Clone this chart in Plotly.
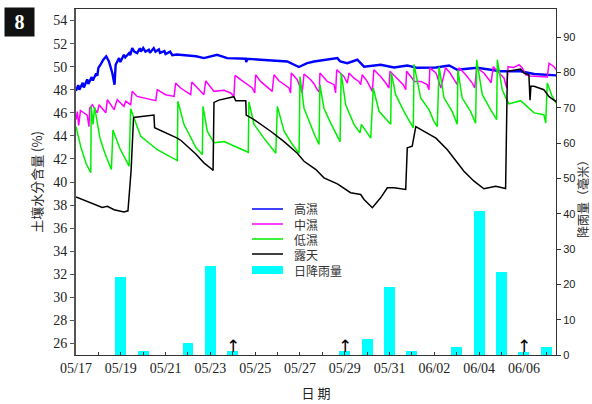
import plotly.graph_objects as go

# ---- data (x = days since 05/17 00:00) ----
tick_days = [0, 2, 4, 6, 8, 10, 12, 14, 16, 18, 20]
tick_labels = ["05/17", "05/19", "05/21", "05/23", "05/25", "05/27",
               "05/29", "05/31", "06/02", "06/04", "06/06"]

hi_t = [0.0, 0.1, 0.15, 0.3, 0.35, 0.5, 0.55, 0.7, 0.75, 0.9, 0.95, 1.0, 1.1, 1.22, 1.35,
        1.47, 1.62, 1.72, 1.77, 1.92, 1.98, 2.14, 2.2, 2.37, 2.42, 2.51, 2.6, 2.73, 2.85,
        2.9, 3.0, 3.1, 3.25, 3.3, 3.47, 3.55, 3.7, 3.75, 3.95, 4.0, 4.2, 4.3, 4.5, 5.0,
        5.36, 5.71, 6.3, 6.75, 7.58, 7.6, 7.65, 8.24, 9.43, 9.95, 10.32, 10.63, 11.07,
        11.67, 11.8, 12.11, 12.56, 12.86, 13.6, 14.2, 14.79, 15.24, 16.07, 16.66, 17.02,
        17.91, 18.96, 19.85, 20.45, 20.89, 21.49]
hi_v = [47.9, 48.4, 48.0, 48.6, 48.2, 48.9, 48.5, 49.1, 48.8, 49.4, 49.2, 49.9, 50.2, 50.6,
        50.9, 50.45, 49.45, 48.44, 50.17, 50.74, 50.4, 51.03, 50.8, 51.18, 51.0, 51.61,
        51.3, 51.18, 51.6, 51.3, 51.61, 51.3, 51.47, 51.2, 51.61, 51.3, 51.5, 51.2, 51.35,
        51.1, 51.3, 51.0, 51.05, 50.95, 50.9, 50.74, 51.03, 50.74, 50.69, 50.4, 50.69,
        50.6, 50.45, 49.97, 50.3, 50.45, 50.6, 50.74, 50.45, 50.3, 50.6, 50.0, 50.17,
        49.93, 50.1, 49.9, 49.93, 50.1, 49.73, 49.9, 49.6, 49.6, 49.36, 49.3, 49.24]

mid_t = [0.0, 0.06, 0.12, 0.2, 0.5, 0.58, 0.61, 0.73, 0.95, 1.03, 1.33, 1.40, 1.70, 1.84,
         2.14, 2.22, 2.44, 2.51, 2.73, 3.56, 3.63, 4.00, 4.38, 4.45, 4.67, 5.12, 5.17,
         5.36, 5.71, 5.79, 6.08, 6.16, 6.61, 6.91, 7.05, 7.10, 7.35, 7.87, 7.98, 8.02,
         8.24, 8.76, 8.84, 9.06, 9.51, 9.58, 9.61, 9.88, 10.10, 10.18, 10.48, 10.63,
         10.77, 10.86, 10.89, 11.22, 11.52, 11.59, 11.64, 11.96, 12.11, 12.19, 12.41,
         12.63, 12.71, 12.78, 13.00, 13.23, 13.30, 13.60, 13.83, 13.97, 14.02, 14.34,
         14.61, 14.72, 14.76, 15.01, 15.09, 15.39, 15.68, 15.76, 15.80, 16.07, 16.13,
         16.29, 16.50, 16.70, 16.88, 17.02, 17.10, 17.40, 17.69, 17.80, 17.89, 18.21,
         18.44, 18.53, 18.63, 18.81, 19.11, 19.23, 19.29, 19.55, 19.78, 19.92, 20.08,
         20.27, 21.04, 21.12, 21.34, 21.49]
mid_v = [45.4, 46.1, 44.9, 46.2, 45.8, 44.8, 46.4, 46.7, 46.0, 46.7, 46.0, 47.14, 46.27,
         47.14, 46.56, 47.0, 46.7, 47.86, 47.42, 47.05, 48.0, 47.57, 47.42, 48.58, 48.15,
         47.57, 48.67, 48.29, 47.57, 48.78, 48.0, 47.86, 47.95, 47.72, 47.42, 49.24, 48.87,
         48.15, 47.72, 49.3, 48.72, 47.86, 49.3, 48.78, 48.15, 47.72, 49.45, 48.87, 47.72,
         49.36, 48.87, 48.5, 48.0, 47.8, 49.45, 48.72, 48.44, 47.72, 49.73, 49.15, 48.58,
         49.45, 49.0, 48.72, 48.44, 49.3, 48.72, 47.86, 49.73, 49.15, 48.58, 48.15, 49.6,
         49.0, 48.44, 48.0, 49.6, 49.0, 48.72, 48.72, 48.44, 48.0, 49.9, 49.45, 49.15,
         48.15, 49.9, 49.45, 48.87, 48.44, 49.9, 49.3, 48.58, 48.15, 49.9, 49.45, 48.87,
         48.6, 50.0, 49.6, 49.0, 48.15, 50.0, 49.93, 50.17, 49.9, 49.3, 49.2, 49.1, 50.3,
         50.0, 49.6]

low_t = [0.0, 0.22, 0.45, 0.66, 0.68, 0.76, 0.83, 1.07, 1.29, 1.58, 1.65, 1.96, 2.37, 2.44,
         2.89, 3.63, 4.52, 4.55, 4.82, 5.36, 5.64, 5.67, 5.86, 6.16, 6.61, 7.20, 7.69,
         7.72, 7.95, 8.39, 8.92, 8.99, 9.29, 9.66, 9.96, 10.0, 10.18, 10.65, 10.85, 10.89,
         11.07, 11.37, 11.79, 11.84, 12.04, 12.41, 12.68, 12.74, 13.16, 13.27, 13.53,
         14.05, 14.08, 14.27, 14.64, 15.06, 15.09, 15.39, 15.76, 15.98, 16.13, 16.21,
         16.43, 16.80, 17.02, 17.05, 17.24, 17.62, 17.84, 17.89, 18.14, 18.51, 18.78,
         18.81, 19.03, 19.23, 19.33, 19.85, 20.30, 20.45, 20.89, 20.97, 21.04, 21.26, 21.49]
low_v = [44.8, 43.0, 41.6, 40.8, 46.56, 45.0, 46.5, 43.8, 42.5, 41.08, 44.5, 42.9, 41.37,
         46.36, 43.96, 42.8, 41.86, 47.0, 45.0, 42.96, 42.38, 46.56, 44.4, 43.4, 43.5,
         42.96, 42.58, 46.94, 45.0, 43.8, 42.5, 46.56, 44.4, 43.25, 42.5, 49.15, 46.4,
         44.1, 43.25, 48.44, 46.4, 45.1, 43.5, 49.45, 46.7, 45.0, 44.26, 45.0, 43.8, 48.15,
         46.13, 45.0, 49.45, 47.57, 46.13, 44.7, 50.2, 47.28, 46.27, 45.26, 44.8, 50.0,
         47.3, 46.1, 45.0, 49.7, 47.3, 46.1, 45.1, 50.6, 47.57, 46.27, 45.4, 50.6, 48.0,
         47.14, 46.77, 47.05, 46.27, 45.99, 45.84, 45.1, 48.58, 47.42, 46.7]

open_t = [0.0, 1.17, 1.40, 1.70, 2.14, 2.32, 2.46, 2.57, 3.48, 3.51, 4.52, 4.69, 5.36, 5.71,
          6.08, 6.12, 6.16, 6.38, 7.05, 7.13, 7.58, 7.60, 7.95, 8.69, 9.29, 9.88, 10.18,
          10.71, 11.07, 11.67, 12.26, 12.71, 12.86, 13.23, 13.60, 13.90, 14.20, 14.72,
          14.79, 15.01, 15.17, 15.54, 16.07, 16.58, 17.32, 17.77, 18.21, 18.74, 19.18,
          19.26, 19.85, 20.00, 20.22, 20.27, 20.31, 20.45, 20.89, 21.12, 21.49]
open_v = [38.7, 37.8, 37.9, 37.6, 37.4, 37.5, 41.0, 45.6, 45.8, 44.7, 43.8, 43.6, 42.4,
          41.66, 41.08, 41.0, 46.9, 47.1, 47.4, 47.05, 47.05, 45.8, 45.4, 44.4, 43.5, 42.5,
          41.8, 41.08, 40.36, 39.84, 39.07, 38.92, 38.49, 37.77, 38.63, 39.5, 39.5, 39.35,
          42.96, 43.1, 44.8, 44.4, 43.8, 42.8, 40.93, 40.07, 39.41, 39.64, 39.44, 49.6,
          49.8, 49.45, 49.3, 47.1, 48.3, 48.3, 48.0, 47.4, 46.9]

rain_days = [2, 3, 5, 6, 7, 12, 13, 14, 15, 17, 18, 19, 20, 21]
rain_mm = [22.1, 1.1, 3.4, 25.2, 1.1, 1.1, 4.5, 19.3, 1.1, 2.3, 40.8, 23.5, 0.8, 2.3]

arrow_days = [7, 12, 20]

names = ["高濕", "中濕", "低濕", "露天", "日降雨量"]
colors = ["#0000FF", "#FF00FF", "#00EE00", "#000000", "#00FFFF"]

# ---- figure ----
fig = go.Figure()
line_specs = [(hi_t, hi_v, 2.4), (mid_t, mid_v, 1.5), (low_t, low_v, 1.5), (open_t, open_v, 1.5)]
for (t, v, w), n, c in zip(line_specs, names[:4], colors[:4]):
    fig.add_trace(go.Scatter(x=t, y=v, mode="lines", name=n, showlegend=False,
                             line=dict(color=c, width=w)))
fig.add_trace(go.Bar(x=rain_days, y=rain_mm, name=names[4], yaxis="y2", showlegend=False,
                     width=0.49, marker=dict(color=colors[4], line=dict(width=0))))

# arrows marking days
for d in arrow_days:
    fig.add_annotation(x=d, y=0, xref="x", yref="y2", text="↑", showarrow=False,
                       yanchor="bottom", yshift=-3,
                       font=dict(family="DejaVu Sans", size=17, color="black"))

# custom legend (paper coordinates)
L, B, W, H = 76, 355, 480, 346
def px(xp): return (xp - L) / W
def py(yp): return (B - yp) / H
rows = [209, 224, 239, 254, 270]
for i, (n, c, r) in enumerate(zip(names, colors, rows)):
    if i < 4:
        fig.add_shape(type="line", xref="paper", yref="paper", x0=px(252), x1=px(283),
                      y0=py(r), y1=py(r), line=dict(color=c, width=1.5))
    else:
        fig.add_shape(type="rect", xref="paper", yref="paper", x0=px(252), x1=px(283),
                      y0=py(r + 4), y1=py(r - 4), line=dict(width=0), fillcolor=c)
    fig.add_annotation(xref="paper", yref="paper", x=px(292), y=py(r), xanchor="left",
                       yanchor="middle", text=n, showarrow=False,
                       font=dict(family="Noto Sans CJK TC", size=12, color="#333"))

# right axis title
fig.add_annotation(xref="paper", yref="paper", x=px(583), y=py(196), xanchor="center",
                   yanchor="middle", text="降雨量（毫米）", textangle=-90, showarrow=False,
                   font=dict(family="Noto Sans CJK TC", size=12, color="#222"))

# panel badge
fig.add_annotation(xref="paper", yref="paper", x=px(4), y=py(7), xanchor="left",
                   yanchor="top", text="<b>8</b>", showarrow=False,
                   font=dict(family="Liberation Serif", size=20, color="white"),
                   bgcolor="#111111", width=25, height=24, borderpad=2)

serif = "Liberation Serif"
cjk = "Noto Sans CJK TC"
fig.update_layout(
    width=592, height=404,
    margin=dict(l=76, r=36, t=9, b=49, autoexpand=False),
    paper_bgcolor="white", plot_bgcolor="white",
    showlegend=False,
    bargap=0,
    xaxis=dict(range=[0, 21.43], tickvals=tick_days, ticktext=tick_labels,
               ticks="inside", ticklen=3, tickcolor="#333",
               minor=dict(dtick=1, tick0=0, ticks="inside", ticklen=3, tickcolor="#333"),
               showline=True, linecolor="#333", linewidth=1, mirror=True,
               showgrid=False, zeroline=False,
               tickfont=dict(family=serif, size=14, color="#222"),
               title=dict(text="日 期", font=dict(family=cjk, size=13, color="#222"),
                          standoff=14)),
    yaxis=dict(range=[25, 55], tick0=26, dtick=2, ticks="outside", ticklen=4,
               tickcolor="#555", showline=True, linecolor="#555", linewidth=2,
               showgrid=False, zeroline=False,
               tickfont=dict(family=serif, size=14, color="#222"),
               title=dict(text="土壤水分含量 (%)",
                          font=dict(family=cjk, size=13, color="#222"), standoff=8)),
    yaxis2=dict(range=[0, 98], tick0=0, dtick=10, overlaying="y", side="right",
                ticks="outside", ticklen=4, tickcolor="#333", showline=True,
                linecolor="#333", linewidth=1, showgrid=False, zeroline=False,
                tickfont=dict(family="Liberation Sans", size=11, color="#222")),
)

fig.write_html("out.html", config={"displayModeBar": False},
               post_script="document.body.style.margin='0';document.body.style.overflow='hidden';")
